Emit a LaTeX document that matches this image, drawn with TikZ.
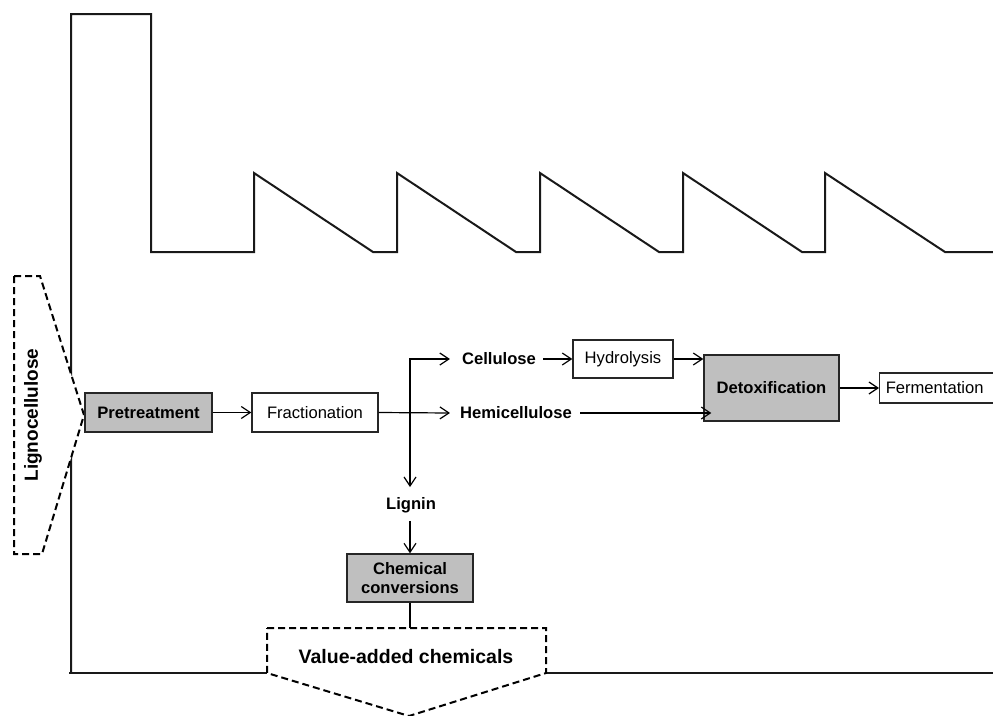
\documentclass[tikz,border=0pt]{standalone}
\usepackage{fontspec}
\setmainfont{Liberation Sans}
\usetikzlibrary{arrows.meta,calc}
\begin{document}
\begin{tikzpicture}[x=1pt,y=-1pt,
  factory/.style={line width=2pt,draw=black!90,line join=miter},
  dashedshape/.style={line width=2pt,dash pattern=on 7pt off 4pt,fill=white,draw=black},
  procbox/.style={draw=black!85,line width=1.3pt,fill=white,inner sep=0pt,
     font=\fontsize{16.6}{19}\selectfont,align=center},
  graybox/.style={procbox,fill=black!25,font=\fontsize{16.6}{19.5}\selectfont\bfseries},
  fraction/.style={font=\fontsize{16.6}{19}\selectfont\bfseries,inner sep=0pt},
  arr/.style={line width=1.2pt,-{Straight Barb[length=9pt,width=12pt,line width=1.2pt]}},
  link/.style={line width=1.2pt}
]
\useasboundingbox (0,0) rectangle (993,715);
% factory outline
\draw[factory] (71,673) -- (71,14) -- (151,14) -- (151,252) -- (254,252)
  -- (254,173) -- (373,252) -- (397,252) -- (397,173) -- (516,252) -- (540,252)
  -- (540,173) -- (659,252) -- (683,252) -- (683,173) -- (802,252) -- (825,252)
  -- (825,173) -- (945,252) -- (995,252);
\draw[factory] (69,673) -- (267,673);
\draw[factory] (546,673) -- (995,673);
% input arrow shape
\draw[dashedshape] (14,276) -- (40,276) -- (84,415) -- (42,554) -- (14,554) -- cycle;
\node[font=\fontsize{19}{22}\selectfont\bfseries,rotate=90] (ligno) at (33,415) {Lignocellulose};
% output arrow shape
\draw[dashedshape] (267,628) -- (546,628) -- (546,673) -- (409,716) -- (267,673) -- cycle;
\node[font=\fontsize{19.5}{22}\selectfont\bfseries] (val) at (406,657) {Value-added chemicals};
\coordinate (valtop) at (410,628);
% process nodes
\node[graybox,minimum width=127pt,minimum height=39pt] (pre) at (148.5,412.5) {Pretreatment};
\node[procbox,minimum width=126pt,minimum height=39pt] (frac) at (315,412.5) {Fractionation};
\node[procbox,minimum width=100pt,minimum height=38pt] (hyd) at (623,359) {Hydrolysis};
\node[graybox,minimum width=135pt,minimum height=66pt] (detox) at (771.5,388) {Detoxification};
\node[procbox,minimum width=118pt,minimum height=30pt,anchor=west] (ferm) at (879,388) {\hspace*{-8pt}Fermentation};
\node[graybox,minimum width=126pt,minimum height=48pt] (chem) at (410,578) {Chemical\\conversions};
% fraction labels
\node[fraction] (cell) at (499,359) {Cellulose};
\node[fraction] (hemi) at (516,413) {Hemicellulose};
\node[fraction] (lignin) at (411,505) {Lignin};
\coordinate (split) at (410,413);
% connectors
\draw[arr] (pre) -- (frac);
\draw[arr] (frac.east) -- ([xshift=-10pt]hemi.west);
\draw[arr] (split) |- ([xshift=-12pt]cell.west);
\draw[arr] (split) -- ([yshift=10pt]lignin.north -| split);
\draw[arr] ([xshift=7pt]cell.east) -- (hyd.west);
\draw[arr] (hyd.east) -- (hyd.east -| detox.west);
\draw[arr] ([xshift=8pt]hemi.east) -- ([xshift=8pt]hemi.east -| detox.west);
\draw[arr] (detox.east) -- (ferm.west);
\draw[arr] ([yshift=-8pt]lignin.south -| chem.north) -- (chem.north);
\draw[link] (chem.south) -- (valtop);
\end{tikzpicture}
\end{document}
